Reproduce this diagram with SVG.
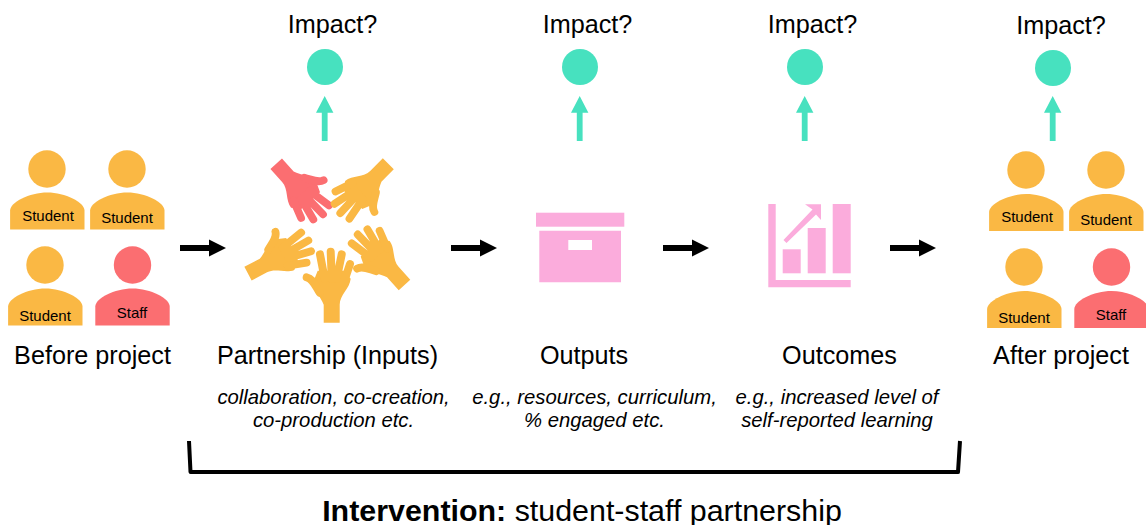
<svg xmlns="http://www.w3.org/2000/svg" width="1146" height="525" viewBox="0 0 1146 525">
<style>
text{font-family:"Liberation Sans",Arial,sans-serif;fill:#000;text-anchor:middle}
.big{font-size:25.2px}
.it{font-size:20.300px;font-style:italic}
.tag{font-size:15px}
.o{fill:#FAB844;color:#FAB844}
.r{fill:#FB6E71;color:#FB6E71}
.p{fill:#FBACDC}
.g{fill:#47E1BF}
.fing{fill:none;stroke:currentColor;stroke-width:8;stroke-linecap:round;stroke-linejoin:round}
</style>
<defs>
<path id="body" d="M-37.2 37V18C-37.2 10-18 0 0 0S37.2 10 37.2 18V37Z"/>
<g id="hand">
<path d="M-8 0V-18C-11-26-18-32-18-42L-14-52H12L19-44C18-34 8-28 8-18V0Z"/>
<path class="fing" d="M-11.700-68.300L-7-44M-1-71L0-44M10-68.300L5-44M18.300-58.700L12-40M-25-45.300C-19-44-17-38-12-30"/>
</g>
<path id="arrowB" d="M0-3H29V-8.500L46 0 29 8.500V3H0Z"/>
<path id="arrowG" d="M-2.900 45V16.700H-8.700L0 0 8.700 16.700H2.900V45Z"/>
</defs>

<g id="connectors">
<use href="#arrowB" x="180" y="248"/>
<use href="#arrowB" x="451" y="248"/>
<use href="#arrowB" x="663" y="248"/>
<use href="#arrowB" x="890" y="248"/>
<use href="#arrowG" class="g" x="324.700" y="96"/>
<use href="#arrowG" class="g" x="579.700" y="96"/>
<use href="#arrowG" class="g" x="804.700" y="96"/>
<use href="#arrowG" class="g" x="1052.700" y="96"/>
<path d="M189 441 L190.500 472 H958 L960 441" fill="none" stroke="#000" stroke-width="4" stroke-linejoin="round"/>
</g>

<g id="impact-1"><circle class="g" cx="325" cy="67" r="18"/><text class="big" x="332.500" y="33">Impact?</text></g>
<g id="impact-2"><circle class="g" cx="580" cy="67" r="18"/><text class="big" x="587.500" y="33">Impact?</text></g>
<g id="impact-3"><circle class="g" cx="805" cy="67" r="18"/><text class="big" x="812.500" y="33">Impact?</text></g>
<g id="impact-4"><circle class="g" cx="1053" cy="68" r="18"/><text class="big" x="1061" y="34">Impact?</text></g>

<g id="before-project">
<g class="o"><circle cx="47" cy="169" r="18.700"/><use href="#body" x="47.300" y="192.500"/></g>
<g class="o"><circle cx="127" cy="169" r="18.700"/><use href="#body" x="127.300" y="192.500"/></g>
<g class="o"><circle cx="45" cy="265" r="18.700"/><use href="#body" x="45.300" y="288.500"/></g>
<g class="r"><circle cx="132.500" cy="265" r="18.700"/><use href="#body" x="132.500" y="288.500"/></g>
<text class="tag" x="48" y="221">Student</text>
<text class="tag" x="127" y="223">Student</text>
<text class="tag" x="45" y="321">Student</text>
<text class="tag" x="132" y="318">Staff</text>
<text class="big" x="92.500" y="364">Before project</text>
</g>

<g id="partnership">
<use id="h1" class="o" href="#hand" transform="translate(331.700 322.700)"/>
<use id="h2" class="o" href="#hand" transform="translate(248 273.700) rotate(62) scale(.97)"/>
<use id="h3" class="r" href="#hand" transform="translate(276.200 163.800) rotate(138) scale(.97)"/>
<use id="h4" class="o" href="#hand" transform="translate(388.300 163.800) rotate(225) scale(.97)"/>
<use id="h5" class="o" href="#hand" transform="translate(404.500 285) rotate(318) scale(.97)"/>
<text class="big" x="327.500" y="364">Partnership (Inputs)</text>
<text class="it" x="333.500" y="404">collaboration, co-creation,</text>
<text class="it" x="333.500" y="427">co-production etc.</text>
</g>

<g id="outputs">
<g class="p"><rect x="536" y="212.700" width="88.300" height="14"/><path fill-rule="evenodd" d="M539.300 230.700H621V282.300H539.300ZM568.300 240V250H592V240Z"/></g>
<text class="big" x="584" y="364">Outputs</text>
<text class="it" x="594.500" y="404">e.g., resources, curriculum,</text>
<text class="it" x="594.500" y="427">% engaged etc.</text>
</g>

<g id="outcomes">
<g class="p"><path d="M768.300 204H775.700V280H850.700V287.300H768.300Z"/><rect x="782.700" y="249.300" width="18" height="24"/><rect x="807.700" y="228" width="18" height="45.300"/><rect x="832.700" y="204" width="18" height="69.300"/><path d="M805 204.300H821V220L816 214.500 786.500 243 783.500 240 812.500 209.500Z"/></g>
<text class="big" x="839.500" y="364">Outcomes</text>
<text class="it" x="837" y="404">e.g., increased level of</text>
<text class="it" x="837" y="427">self-reported learning</text>
</g>

<g id="after-project">
<g class="o"><circle cx="1026" cy="170" r="18.700"/><use href="#body" x="1026.300" y="194"/></g>
<g class="o"><circle cx="1106" cy="170" r="18.700"/><use href="#body" x="1106.300" y="194"/></g>
<g class="o"><circle cx="1024" cy="267" r="18.700"/><use href="#body" x="1024.300" y="291"/></g>
<g class="r"><circle cx="1111.500" cy="267" r="18.700"/><use href="#body" x="1111.500" y="291"/></g>
<text class="tag" x="1027" y="222">Student</text>
<text class="tag" x="1106" y="225">Student</text>
<text class="tag" x="1024" y="323">Student</text>
<text class="tag" x="1111" y="320">Staff</text>
<text class="big" x="1061" y="364">After project</text>
</g>

<g id="intervention"><text x="582" y="521" font-size="30.400"><tspan font-weight="bold">Intervention:</tspan> student-staff partnership</text></g>
</svg>
